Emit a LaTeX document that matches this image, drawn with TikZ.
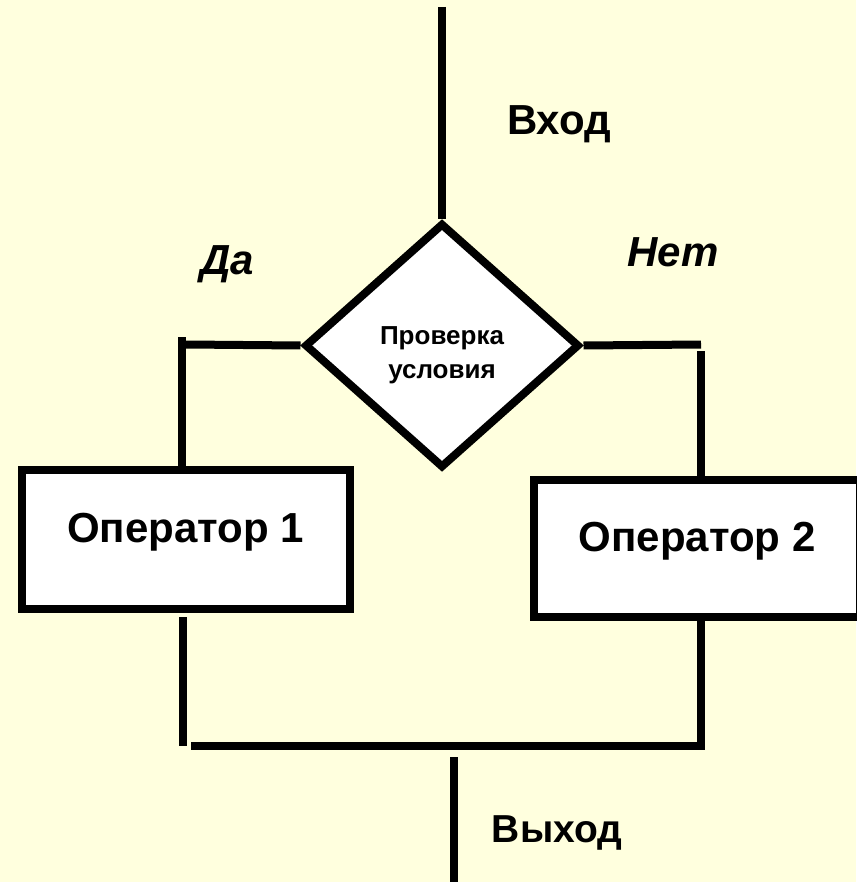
\documentclass[tikz,border=0pt]{standalone}
\usepackage{fontspec}
\setmainfont{Liberation Sans}
\usetikzlibrary{shapes.geometric}
\definecolor{paper}{HTML}{FFFFDE}

\begin{document}
\begin{tikzpicture}[x=1pt, y=-1pt, line width=8pt,
  cond/.style={diamond, draw, fill=white, inner sep=0pt, minimum width=275pt, minimum height=245pt},
  condtext/.style={font=\fontsize{26}{34}\selectfont\bfseries, align=center, inner sep=0pt, anchor=north},
  opbox/.style={rectangle, draw, fill=white, minimum width=328pt, minimum height=139pt,
    font=\fontsize{42}{50}\selectfont\bfseries, text height=30pt, text depth=24pt},
  caption/.style={font=\fontsize{42}{50}\selectfont\bfseries, anchor=base, inner sep=0pt},
  branch/.style={caption, font=\fontsize{42}{50}\selectfont\bfseries\itshape}]
% Background
\useasboundingbox (0,0) rectangle (856,882);
\fill[paper] (0,0) rectangle (856,882);

% Blocks
\node[cond] (dia) at (442,345.5) {};
\node[condtext] (condlbl) at (442,323) {Проверка\\условия};
\node[opbox] (op1) at (185.5,539) {Оператор 1};
\node[opbox, minimum width=326pt, minimum height=137pt] (op2) at (697,548) {Оператор 2};

% Labels
\node[caption] (inlbl) at (559,135) {Вход};
\node[caption, font=\fontsize{39}{47}\selectfont\bfseries] (outlbl) at (557,842) {Выход};
\node[branch] (yes) at (227,275) {Да};
\node[branch] (no) at (673,267) {Нет};

% Corner points
\coordinate (in) at (442,7);
\coordinate (yend) at (186,344.5);
\coordinate (ytop) at (182,337);
\coordinate (nend) at (701,344.5);
\coordinate (ntop) at (701,351);
\coordinate (ybot) at (183,617);
\coordinate (ylow) at (183,745.5);
\coordinate (join) at (191,745.5);
\coordinate (nlow) at (701,745.5);
\coordinate (outtop) at (454,757);
\coordinate (out) at (454,890);

% Lines
\draw (in) -- (dia.north);
\draw (dia.west) -- (yend);
\draw (ytop) -- (ytop |- op1.north);
\draw (dia.east) -- (nend);
\draw (ntop) -- (ntop |- op2.north);
\draw (ybot) -- (ylow);
\draw (nlow |- op2.south) -- (nlow) -- (join);
\draw (outtop) -- (out);
\end{tikzpicture}
\end{document}
